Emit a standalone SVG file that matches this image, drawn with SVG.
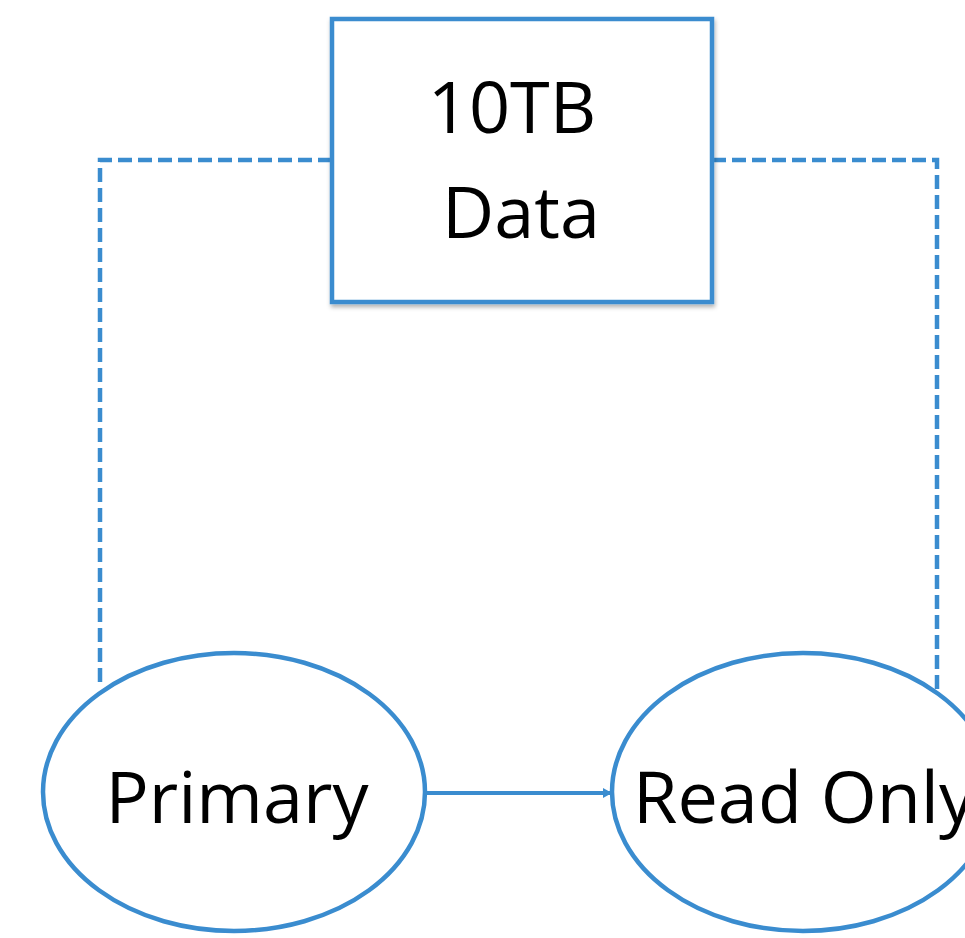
<svg xmlns="http://www.w3.org/2000/svg" width="965" height="938" viewBox="0 0 965 938">
<defs>
<style>
.node{fill:#fff;stroke:#3a8ccf;stroke-width:4.5}
.lbl{font-family:"Open Sans","Noto Sans",sans-serif;font-size:72px;fill:#000}
.dash{fill:none;stroke:#3a8ccf;stroke-width:4.5;stroke-dasharray:14 6}
.solid{fill:none;stroke:#3a8ccf;stroke-width:4}
</style>
<marker id="arr" markerWidth="9" markerHeight="10" refX="8" refY="5" orient="auto" markerUnits="userSpaceOnUse" viewBox="0 0 9 10">
<path d="M0,0 L9,5 L0,10 z" fill="#3a8ccf"/>
</marker>
<filter id="sh" x="-10%" y="-10%" width="120%" height="120%">
<feDropShadow dx="1" dy="3" stdDeviation="2" flood-color="#000" flood-opacity="0.3"/>
</filter>
</defs>
<rect width="965" height="938" fill="#fff"/>
<g id="connectors">
<path class="dash" d="M332,160 H100 V688"/>
<path class="dash" d="M712,160 H937 V692"/>
<path class="solid" d="M427,793 H611" marker-end="url(#arr)"/>
</g>
<g id="data">
<rect class="node" x="332" y="19" width="380" height="283" filter="url(#sh)"/>
<text class="lbl" x="512" y="133" text-anchor="middle">10TB</text>
<text class="lbl" x="521" y="238" text-anchor="middle">Data</text>
</g>
<g id="primary">
<ellipse class="node" cx="234" cy="792" rx="191" ry="139"/>
<text class="lbl" x="237" y="823" text-anchor="middle">Primary</text>
</g>
<g id="readonly">
<ellipse class="node" cx="803" cy="792" rx="191" ry="139"/>
<text class="lbl" x="633" y="823">Read Only</text>
</g>
</svg>
